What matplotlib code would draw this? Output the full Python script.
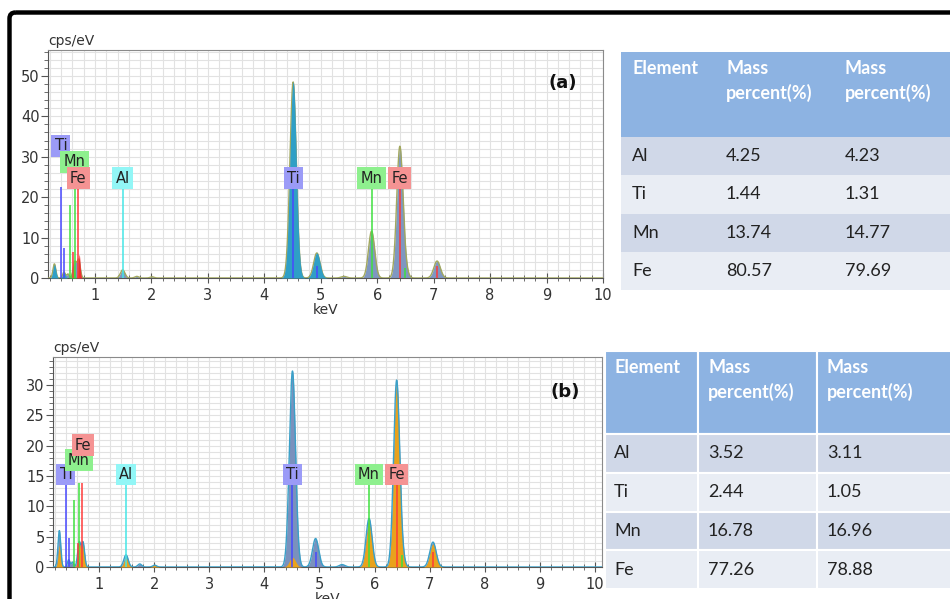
import numpy as np
import matplotlib.pyplot as plt
from matplotlib.patches import Rectangle, FancyBboxPatch
from matplotlib.ticker import MultipleLocator

# ---------------- spectrum (a) ----------------
# peak positions (keV), heights (cps/eV) and widths (keV)
a_kev = [0.28, 0.45, 0.52, 0.64, 0.71, 1.49, 1.74, 2.01, 4.51, 4.93, 5.41, 5.90, 6.40, 6.49, 7.06]
a_cps = [3.5, 1.5, 1.0, 4.0, 4.5, 2.0, 0.4, 0.3, 48.5, 6.2, 0.4, 11.6, 32.2, 2.0, 4.2]
a_wid = [0.025, 0.022, 0.022, 0.028, 0.028, 0.04, 0.035, 0.035, 0.056, 0.056, 0.05, 0.055, 0.055, 0.05, 0.058]
# Ti component (teal overlay)
a_ti_kev = [0.28, 0.45, 4.51, 4.93]
a_ti_cps = [3.3, 1.4, 48.5, 6.2]
a_ti_wid = [0.025, 0.022, 0.056, 0.056]
# Mn / Fe L-line components
a_mn_kev = [0.61]
a_mn_cps = [3.0]
a_mn_wid = [0.022]
a_fe_kev = [0.72]
a_fe_cps = [5.8]
a_fe_wid = [0.016]

# ---------------- spectrum (b) ----------------
b_kev = [0.28, 0.45, 0.52, 0.64, 0.71, 1.49, 1.74, 2.01, 4.51, 4.93, 5.41, 5.90, 6.40, 6.49, 7.06]
b_cps = [6.0, 1.2, 0.8, 4.0, 4.0, 2.0, 0.5, 0.3, 32.3, 4.7, 0.4, 8.0, 30.5, 1.5, 4.1]
b_wid = [0.025, 0.022, 0.022, 0.028, 0.028, 0.04, 0.035, 0.035, 0.056, 0.056, 0.05, 0.055, 0.055, 0.05, 0.058]
# orange component
b_or_kev = [0.28, 0.64, 0.71, 1.49, 2.01, 4.51, 5.90, 6.40, 6.49, 7.06]
b_or_cps = [3.5, 3.8, 3.8, 1.5, 0.4, 1.6, 7.6, 30.0, 1.4, 3.8]
b_or_wid = [0.022, 0.026, 0.026, 0.038, 0.035, 0.055, 0.052, 0.052, 0.05, 0.055]

# ---------------- element markers ----------------
elem_color = {'Ti': '#4848ff', 'Mn': '#3fe03f', 'Fe': '#ff3a3a', 'Al': '#45e6e6'}
label_color = {'Ti': '#9b9bf7', 'Mn': '#8ef08e', 'Fe': '#f59393', 'Al': '#92f6f6'}

a_line_elem = ['Ti', 'Ti', 'Ti', 'Ti', 'Mn', 'Mn', 'Mn', 'Mn', 'Fe', 'Fe', 'Fe', 'Fe', 'Al']
a_line_kev = [0.395, 0.452, 4.51, 4.93, 0.555, 0.637, 5.90, 6.49, 0.61, 0.705, 6.40, 7.06, 1.49]
a_line_top = [22.5, 7.3, 22.7, 3.0, 18.0, 22.5, 22.7, 2.5, 6.4, 22.5, 22.7, 3.0, 22.7]
a_lab_elem = ['Ti', 'Mn', 'Fe', 'Al', 'Ti', 'Mn', 'Fe']
a_lab_kev = [0.395, 0.637, 0.705, 1.49, 4.51, 5.90, 6.40]
a_lab_cps = [32.7, 28.7, 24.7, 24.7, 24.7, 24.7, 24.7]

b_line_elem = ['Ti', 'Ti', 'Ti', 'Ti', 'Mn', 'Mn', 'Mn', 'Mn', 'Fe', 'Fe', 'Fe', 'Fe', 'Al']
b_line_kev = [0.395, 0.455, 4.51, 4.93, 0.55, 0.637, 5.90, 6.49, 0.61, 0.70, 6.40, 7.06, 1.49]
b_line_top = [14.0, 4.7, 14.0, 2.5, 11.0, 13.8, 14.0, 2.0, 4.0, 13.8, 14.0, 2.5, 14.0]
b_lab_elem = ['Ti', 'Mn', 'Fe', 'Al', 'Ti', 'Mn', 'Fe']
b_lab_kev = [0.40, 0.637, 0.71, 1.49, 4.51, 5.90, 6.40]
b_lab_cps = [15.2, 17.6, 20.1, 15.2, 15.2, 15.2, 15.2]

# ---------------- tables ----------------
elements = ['Al', 'Ti', 'Mn', 'Fe']
mass_a1 = ['4.25', '1.44', '13.74', '80.57']
mass_a2 = ['4.23', '1.31', '14.77', '79.69']
mass_b1 = ['3.52', '2.44', '16.78', '77.26']
mass_b2 = ['3.11', '1.05', '16.96', '78.88']
headers = ['Element', 'Mass\npercent(%)', 'Mass\npercent(%)']


def spectrum(kev, centers, heights, widths):
    y = np.zeros_like(kev)
    for c, h, w in zip(centers, heights, widths):
        y += h * np.exp(-0.5 * ((kev - c) / w) ** 2)
    return y


def setup_axes(ax, xlim, ylim, ymajor, yminor):
    ax.set_xlim(*xlim)
    ax.set_ylim(*ylim)
    ax.xaxis.set_major_locator(MultipleLocator(1))
    ax.xaxis.set_minor_locator(MultipleLocator(0.2))
    ax.yaxis.set_major_locator(MultipleLocator(ymajor))
    ax.yaxis.set_minor_locator(MultipleLocator(yminor))
    ax.grid(which='both', color='#e2e2e2', lw=0.8)
    ax.set_axisbelow(True)
    for s in ax.spines.values():
        s.set_color('#8a8a8a')
    ax.spines['bottom'].set_color('#555555')
    ax.spines['left'].set_color('#555555')
    ax.tick_params(axis='x', which='major', direction='inout', length=7, color='#555555',
                   labelsize=10.5, labelcolor='#333333')
    ax.tick_params(axis='x', which='minor', direction='inout', length=5, color='#555555')
    ax.tick_params(axis='y', which='major', direction='out', length=5, color='#555555',
                   labelsize=10.5, labelcolor='#333333', pad=1)
    ax.tick_params(axis='y', which='minor', direction='out', length=3, color='#555555')
    ax.text(0.0, 1.01, 'cps/eV', transform=ax.transAxes, fontsize=10, color='#333333',
            ha='left', va='bottom')
    ax.set_xlabel('keV', fontsize=10, color='#333333', labelpad=0)


def draw_markers(ax, line_elem, line_kev, line_top, lab_elem, lab_kev, lab_cps):
    for el, x, top in zip(line_elem, line_kev, line_top):
        ax.vlines(x, 0, top, colors=elem_color[el], lw=1.1, zorder=5)
    for el, x, y in zip(lab_elem, lab_kev, lab_cps):
        ax.text(x, y, el, ha='center', va='center', fontsize=10.5, color='#222222', zorder=6,
                bbox=dict(boxstyle='square,pad=0.22', fc=label_color[el], ec='none'))


def draw_table(ax, x0, col_w, y0, head_h, row_h, cols, text_x, separators):
    x = x0
    for w in col_w:
        ax.add_patch(Rectangle((x, y0), w, head_h, fc='#8db3e2',
                               ec='white' if separators else 'none', lw=1.5))
        x += w
    for i in range(len(cols[0])):
        y = y0 + head_h + i * row_h
        fc = '#d0d8e8' if i % 2 == 0 else '#e9edf4'
        x = x0
        for w in col_w:
            ax.add_patch(Rectangle((x, y), w, row_h, fc=fc,
                                   ec='white' if separators else 'none', lw=1.5))
            x += w
        for tx, col in zip(text_x, cols):
            ax.text(tx, y + row_h / 2, col[i], ha='left', va='center', fontsize=13,
                    family='Lato', color='#222222')
    for tx, h in zip(text_x, headers):
        ax.text(tx, y0 + 8, h, ha='left', va='top', fontsize=13, family='Lato',
                fontweight='bold', color='white', linespacing=1.45)


fig = plt.figure(figsize=(9.5, 5.99), dpi=100)
kev = np.linspace(0.1, 10.3, 4000)

# ---- panel (a)
ax1 = fig.add_axes([48 / 950, 1 - 278 / 599, 555 / 950, 228 / 599])
setup_axes(ax1, (0.167, 10.0), (0, 56.4), 10, 2)
ya = spectrum(kev, a_kev, a_cps, a_wid)
ax1.fill_between(kev, 0, ya, color='#7f97c1', lw=0, zorder=2)
ax1.plot(kev, ya, color='#a2a85e', lw=1.0, zorder=3)
ax1.fill_between(kev, 0, spectrum(kev, a_ti_kev, a_ti_cps, a_ti_wid), color='#2f9fc6',
                 lw=0, zorder=3.5)
ax1.fill_between(kev, 0, spectrum(kev, a_mn_kev, a_mn_cps, a_mn_wid), color='#4fd04f',
                 lw=0, zorder=3.6)
ax1.fill_between(kev, 0, spectrum(kev, a_fe_kev, a_fe_cps, a_fe_wid), color='#f03030',
                 lw=0, zorder=3.7)
draw_markers(ax1, a_line_elem, a_line_kev, a_line_top, a_lab_elem, a_lab_kev, a_lab_cps)
ax1.text(0.928, 0.855, '(a)', transform=ax1.transAxes, fontsize=13, fontweight='bold',
         ha='center', va='center', color='#111111')

# ---- panel (b)
ax2 = fig.add_axes([53 / 950, 1 - 567 / 599, 549 / 950, 210 / 599])
setup_axes(ax2, (0.165, 10.127), (0, 34.6), 5, 1)
yb = spectrum(kev, b_kev, b_cps, b_wid)
ax2.fill_between(kev, 0, yb, color='#7a91bd', lw=0, zorder=2)
ax2.fill_between(kev, 0, spectrum(kev, b_or_kev, b_or_cps, b_or_wid), color='#e9a21c',
                 lw=0, zorder=3)
ax2.plot(kev, yb, color='#3aa0c8', lw=1.0, zorder=3.5)
draw_markers(ax2, b_line_elem, b_line_kev, b_line_top, b_lab_elem, b_lab_kev, b_lab_cps)
ax2.text(0.933, 0.833, '(b)', transform=ax2.transAxes, fontsize=13, fontweight='bold',
         ha='center', va='center', color='#111111')

# ---- tables and frame (pixel coordinates)
over = fig.add_axes([0, 0, 1, 1])
over.set_zorder(-1)
over.set_xlim(0, 950)
over.set_ylim(599, 0)
over.axis('off')
draw_table(over, 621, [99, 115, 125], 52, 85, 38.3, [elements, mass_a1, mass_a2],
           [632, 726, 845], separators=False)
draw_table(over, 605, [93, 119, 140], 351, 83, 38.8, [elements, mass_b1, mass_b2],
           [614, 708, 827], separators=True)
over.add_patch(FancyBboxPatch((9.5, 12.5), 960, 620, boxstyle='round,pad=0,rounding_size=6',
                              fc='none', ec='black', lw=3.2))

fig.savefig('out.png', dpi=100)
